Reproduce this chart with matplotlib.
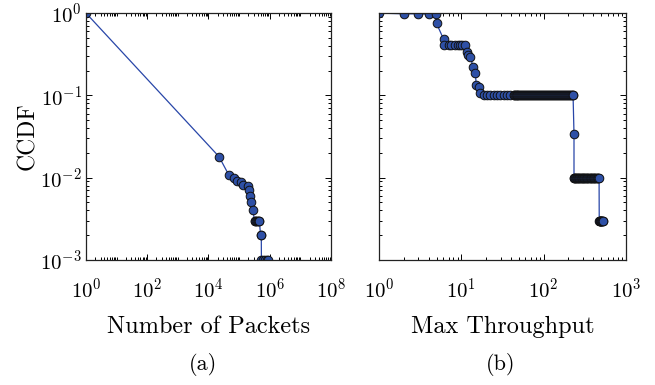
import numpy as np
import matplotlib
matplotlib.use("Agg")
import matplotlib.pyplot as plt
from matplotlib.ticker import LogLocator, NullFormatter

plt.rcParams["font.family"] = ["cmr10", "DejaVu Serif"]
plt.rcParams["mathtext.fontset"] = "cm"
plt.rcParams["axes.formatter.use_mathtext"] = True
plt.rcParams["axes.unicode_minus"] = False

# CCDF of flow sizes (packets per flow)
pkt_x = [1, 2.2e4, 4.6e4, 6.7e4, 8.6e4, 1.17e5, 1.35e5, 1.9e5, 2.1e5, 2.3e5,
         2.45e5, 2.8e5, 3.2e5, 3.4e5, 3.6e5, 3.8e5, 4.1e5, 4.4e5, 4.6e5,
         5.0e5, 5.3e5, 5.35e5, 6.0e5, 7.0e5, 8.0e5, 9.0e5]
pkt_y = [1.0, 0.018, 0.0108, 0.0100, 0.0090, 0.0088, 0.0081, 0.0080, 0.0070,
         0.0060, 0.0050, 0.0040, 0.003, 0.003, 0.003, 0.003, 0.003, 0.003,
         0.003, 0.002, 0.002, 0.001, 0.001, 0.001, 0.001, 0.001]

# CCDF of per-flow max throughput: the steep head ...
thr_head_x = [1.0, 2.0, 3.0, 4.0, 4.9, 5.0, 6.1, 6.1, 7.0, 7.6, 8.3, 9.0,
              9.6, 10.3, 11.0, 11.7, 12.1, 12.9, 13.9, 14.8, 15.2, 16.2, 17.0]
thr_head_y = [1.0, 0.98, 0.98, 0.97, 0.97, 0.75, 0.48, 0.41, 0.41, 0.41,
              0.41, 0.41, 0.41, 0.41, 0.41, 0.34, 0.31, 0.295, 0.22, 0.188,
              0.133, 0.125, 0.106]
# ... then the three plateaus of tied values
plateau_levels = [0.1, 0.034, 0.01, 0.003]
plateau_x = [
    [18.7, 20.6, 22.6, 24.8, 27.2, 29.9, 32.8, 36.1, 39.6, 43.5,
     44, 45, 46, 47, 48, 49, 50, 52, 53, 55, 56, 58, 59, 61, 63, 65, 67,
     69, 71, 73, 75, 77, 79, 81, 83, 85, 88, 90, 93, 95, 98, 101, 104,
     107, 110, 113, 116, 119, 122, 126, 129, 133, 137, 141, 145, 149, 153,
     157, 162, 166, 171, 176, 181, 186, 191, 196, 202, 208, 214, 220, 225,
     228],
    [234],
    [234, 236, 240, 244, 248, 252, 257, 262, 267, 272, 277, 283, 289, 295,
     301, 307, 313, 320, 327, 334, 341, 348, 356, 364, 372, 380, 388, 397,
     406, 415, 424, 433, 443, 452, 462, 472],
    [474, 478, 482, 486, 490, 495, 500, 505, 510, 515, 520, 525],
]

thr_x = list(thr_head_x)
thr_y = list(thr_head_y)
for level, xs in zip(plateau_levels, plateau_x):
    thr_x += xs
    thr_y += [level] * len(xs)

line_c = "#2846a8"
face_c = "#2e50a6"

fig = plt.figure(figsize=(6.55, 3.85), dpi=100)
ax1 = fig.add_axes([0.1313, 0.325, 0.374, 0.641])
ax2 = fig.add_axes([0.5786, 0.325, 0.377, 0.641])

for ax, xs, ys in [(ax1, pkt_x, pkt_y), (ax2, thr_x, thr_y)]:
    ax.plot(xs, ys, "-o", color=line_c, lw=0.9, ms=6.2, mfc=face_c,
            mec="#111111", mew=0.7)
    ax.set_xscale("log")
    ax.set_yscale("log")
    ax.set_ylim(1e-3, 1)
    ax.xaxis.set_minor_locator(LogLocator(base=10, subs=np.arange(1, 10), numticks=30))
    ax.yaxis.set_minor_locator(LogLocator(base=10, subs=np.arange(1, 10), numticks=30))
    ax.xaxis.set_minor_formatter(NullFormatter())
    ax.yaxis.set_minor_formatter(NullFormatter())
    ax.tick_params(which="both", direction="in", top=True, right=True,
                   labelsize=15, width=0.7)
    ax.tick_params(axis="x", which="both", pad=13)
    ax.tick_params(axis="y", which="both", pad=3)
    ax.tick_params(which="major", length=4)
    ax.tick_params(which="minor", length=2)
    for s in ax.spines.values():
        s.set_linewidth(0.9)
        s.set_color("#222222")

ax1.set_xlim(1, 1e8)
ax1.set_xticks([1, 1e2, 1e4, 1e6, 1e8])
ax2.set_xlim(1, 1e3)
ax2.set_xticks([1, 10, 100, 1000])
ax2.set_yticklabels([])

ax1.set_ylabel("CCDF", fontsize=17, labelpad=1)
ax1.set_xlabel("Number of Packets", fontsize=17.5, labelpad=10)
ax2.set_xlabel("Max Throughput", fontsize=17.5, labelpad=10)

fig.text(0.310, 0.052, "(a)", fontsize=16, ha="center", va="center")
fig.text(0.765, 0.052, "(b)", fontsize=16, ha="center", va="center")

fig.savefig("out.png", dpi=100)
